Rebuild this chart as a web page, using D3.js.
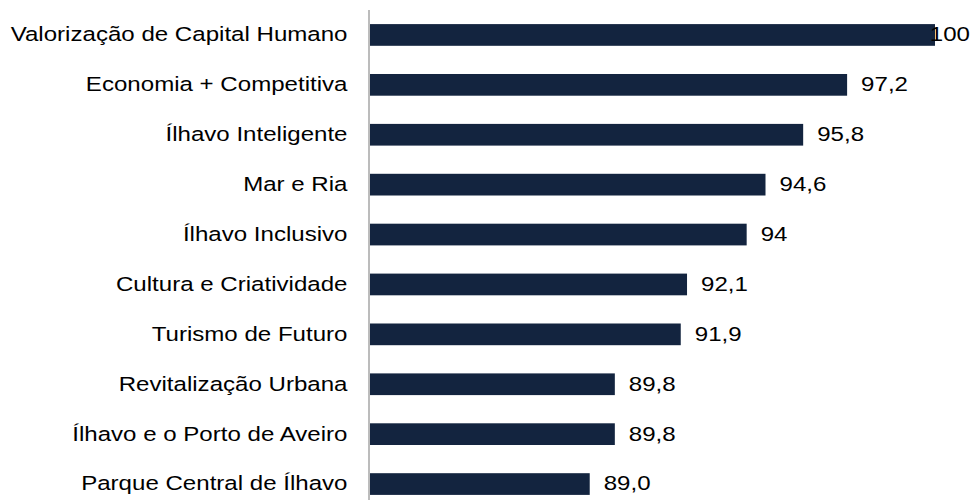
<!DOCTYPE html>
<html>
<head>
<meta charset="utf-8">
<script src="https://cdn.jsdelivr.net/npm/d3@7"></script>
<style>
  html, body { margin: 0; padding: 0; background: #fff; }
  svg { display: block; }
  text { font-family: "Liberation Sans", Arial, sans-serif; fill: #000; }
</style>
</head>
<body>
<svg id="chart" width="971" height="500"></svg>
<script>
const categories = [
  "Valorização de Capital Humano",
  "Economia + Competitiva",
  "Ílhavo Inteligente",
  "Mar e Ria",
  "Ílhavo Inclusivo",
  "Cultura e Criatividade",
  "Turismo de Futuro",
  "Revitalização Urbana",
  "Ílhavo e o Porto de Aveiro",
  "Parque Central de Ílhavo"
];
const values = [100, 97.2, 95.8, 94.6, 94, 92.1, 91.9, 89.8, 89.8, 89.0];
const valueLabels = ["100", "97,2", "95,8", "94,6", "94", "92,1", "91,9", "89,8", "89,8", "89,0"];
const xDomain = [82, 100];

const W = 971, H = 500;
const stretch = 1.235;
const fontSize = 19.5;
const svg = d3.select("#chart");

const x = d3.scaleLinear().domain(xDomain).range([370, 935]);
const y = d3.scaleBand().domain(categories).range([10, 509]).paddingInner(0.565).paddingOuter(0.2825);

const data = categories.map((c, i) => ({ c, v: values[i], l: valueLabels[i] }));

svg.append("g").selectAll("rect").data(data).join("rect")
  .attr("x", x(xDomain[0]))
  .attr("y", d => y(d.c))
  .attr("width", d => x(d.v) - x(xDomain[0]))
  .attr("height", y.bandwidth())
  .attr("fill", "#13243f");

// axis line
svg.append("line")
  .attr("x1", 369).attr("x2", 369)
  .attr("y1", 10).attr("y2", H)
  .attr("stroke", "#a6a6a6").attr("stroke-width", 1.5);

// category labels
svg.append("g").selectAll("text").data(data).join("text")
  .attr("transform", d => `translate(347.5,${y(d.c) + y.bandwidth() / 2}) scale(${stretch},1)`)
  .attr("text-anchor", "end")
  .attr("dy", "0.33em")
  .style("font-size", fontSize + "px")
  .text(d => d.c);

// value labels
svg.append("g").selectAll("text").data(data).join("text")
  .style("font-size", fontSize + "px")
  .attr("dy", "0.33em")
  .text(d => d.l)
  .each(function(d) {
    const w = this.getComputedTextLength() * stretch;
    let tx = x(d.v) + 14;
    if (tx + w > W - 1) tx = W - 1 - w;
    d3.select(this).attr("transform", `translate(${tx},${y(d.c) + y.bandwidth() / 2}) scale(${stretch},1)`);
  });
</script>
</body>
</html>
